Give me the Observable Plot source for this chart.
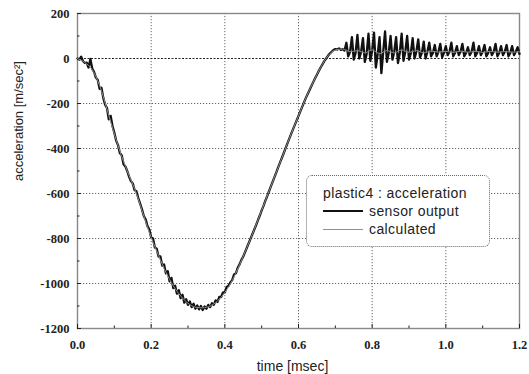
<!DOCTYPE html>
<html>
<head>
<meta charset="utf-8">
<script src="https://cdn.jsdelivr.net/npm/d3@7"></script>
<script src="https://cdn.jsdelivr.net/npm/@observablehq/plot@0.6"></script>
<style>
  html, body { margin: 0; padding: 0; background: #fff; }
  #wrap { position: relative; width: 529px; height: 374px; }
  #legend {
    position: absolute; left: 306px; top: 175px; width: 182px; height: 70px;
    border: 1px dotted #666; border-radius: 6px; background: #fff;
    font-family: "Liberation Sans", Arial, sans-serif; font-size: 14px; color: #222;
    letter-spacing: 0.4px;
  }
  #legend .title { position: absolute; left: 16px; top: 9px; white-space: nowrap; }
  #legend .row { position: absolute; left: 16px; white-space: nowrap; display: flex; align-items: center; }
  #legend .sw { display: inline-block; width: 40px; margin-right: 6px; }
</style>
</head>
<body>
<div id="wrap"></div>
<script>
// ---- data ----
const sensorStep = 0.005;            // msec between sensor samples, starting at 0
const sensorAccel = [
  0, -5, 8, -12, -20, -18, -40, -2, -45, -60,
  -85, -95, -135, -130, -175, -205, -220, -270, -255, -300,
  -330, -365, -385, -420, -430, -470, -480, -500, -525, -545,
  -555, -585, -590, -620, -645, -670, -700, -715, -745, -760,
  -795, -800, -840, -845, -880, -880, -920, -915, -955, -945,
  -990, -975, -1020, -1010, -1045, -1030, -1065, -1050, -1085, -1070,
  -1095, -1080, -1105, -1090, -1112, -1098, -1115, -1100, -1118, -1102,
  -1112, -1095, -1105, -1088, -1095, -1075, -1082, -1060, -1060, -1040,
  -1040, -1015, -1010, -995, -985, -960, -955, -930, -915, -895,
  -880, -860, -840, -820, -800, -780, -760, -740, -718, -698,
  -675, -655, -632, -612, -590, -568, -547, -526, -505, -483,
  -462, -441, -420, -398, -377, -356, -335, -315, -295, -275,
  -255, -235, -215, -195, -175, -158, -140, -122, -105, -88,
  -72, -56, -40, -26, -12, 0, 12, 22, 30, 38,
  42, 40, 45, 38, 42, 35, 70, 10, 30, 95,
  -5, 25, 105, 0, 30, 90, -15, 20, 110, -10,
  35, 115, -40, 20, 95, -65, 30, 120, -15, 25,
  100, -5, 30, 95, -20, 25, 110, -10, 30, 100,
  -5, 25, 90, 0, 30, 85, 5, 25, 75, 0,
  30, 70, 10, 25, 60, 10, 30, 65, 5, 25,
  55, 15, 30, 70, 10, 25, 55, 15, 30, 65,
  10, 25, 50, 15, 30, 70, 10, 25, 55, 15,
  30, 60, 10, 25, 50, 15, 30, 65, 10, 25,
  55, 15, 30, 60, 10, 25, 55, 15, 30, 50,
  20
];
const calcStep = 0.02;               // msec between calculated samples, starting at 0
const calcAccel = [
  0, -18, -50, -120, -225, -335, -435, -520, -600, -700,
  -795, -875, -950, -1010, -1055, -1088, -1105, -1108, -1100, -1078,
  -1040, -987, -917, -840, -760, -675, -590, -505, -420, -335,
  -255, -175, -105, -40, 12, 38, 42, 30, 35, 25,
  38, 22, 35, 25, 38, 28, 35, 25, 33, 28,
  32, 27, 33, 28, 32, 27, 32, 28, 31, 28,
  30
];
const xTicks = [0, 0.2, 0.4, 0.6, 0.8, 1.0, 1.2];
const xTickLabels = ["0.0", "0.2", "0.4", "0.6", "0.8", "1.0", "1.2"];
const xMinor = [0.1, 0.3, 0.5, 0.7, 0.9, 1.1];
const yTicks = [200, 0, -200, -400, -600, -800, -1000, -1200];
const yTickLabels = ["200", "0", "-200", "-400", "-600", "-800", "-1000", "-1200"];
const yMinor = [100, -100, -300, -500, -700, -900, -1100];
const xTitle = "time [msec]";
const yTitle = "acceleration [m/sec\u00B2]";
const legendTitle = "plastic4 : acceleration";
const seriesNames = ["sensor output", "calculated"];
const seriesColors = ["#111", "#8f8f8f"];

// ---- build tables ----
const sensorData = sensorAccel.map((v, i) => ({t: +(i * sensorStep).toFixed(4), v}));
const calcData = calcAccel.map((v, i) => ({t: +(i * calcStep).toFixed(4), v}));
const xLab = new Map(xTicks.map((d, i) => [d, xTickLabels[i]]));
const yLab = new Map(yTicks.map((d, i) => [d, yTickLabels[i]]));

const tickFont = {fontFamily: "'Liberation Serif', serif", fontSize: 12.5, fontWeight: "bold"};

const chart = Plot.plot({
  width: 529, height: 374,
  marginLeft: 77, marginRight: 10, marginTop: 13, marginBottom: 46,
  style: {fontFamily: "'Liberation Sans', Arial, sans-serif", color: "#222", background: "#fff"},
  x: {domain: [0, 1.2]},
  y: {domain: [-1200, 200]},
  marks: [
    Plot.gridX(xTicks, {stroke: "#666", strokeOpacity: 1, strokeDasharray: "1.2,1.8"}),
    Plot.gridY(yTicks.filter(d => d !== 0), {stroke: "#666", strokeOpacity: 1, strokeDasharray: "1.2,1.8"}),
    Plot.ruleY(yTicks.filter(d => d === 0), {stroke: "#222", strokeDasharray: "2,1.5"}),
    Plot.frame({stroke: "#888", strokeWidth: 1.4}),
    Plot.axisX(xTicks, {anchor: "bottom", tickSize: -4, tickPadding: 16, tickFormat: d => xLab.get(d), label: null, ...tickFont}),
    Plot.axisX(xMinor, {anchor: "bottom", tickSize: -2.5, tickFormat: () => "", label: null}),
    Plot.axisY(yTicks, {anchor: "left", tickSize: -4, tickPadding: 12, tickFormat: d => yLab.get(d), label: null, ...tickFont}),
    Plot.axisY(yMinor, {anchor: "left", tickSize: -2.5, tickFormat: () => "", label: null}),
    Plot.line(sensorData, {x: "t", y: "v", stroke: seriesColors[0], strokeWidth: 2.3, strokeLinejoin: "round"}),
    Plot.line(calcData, {x: "t", y: "v", stroke: seriesColors[1], strokeWidth: 1, curve: "monotone-x"}),
    Plot.text([xTitle], {frameAnchor: "bottom", dx: -6, dy: 38, fontSize: 14, fill: "#222", lineAnchor: "middle", style: "letter-spacing:1px"}),
    Plot.text([yTitle], {frameAnchor: "left", rotate: -90, dx: -59, dy: 10, fontSize: 13, fill: "#222", lineAnchor: "middle"})
  ]
});

const wrap = document.getElementById("wrap");
wrap.appendChild(chart);

// legend
const lg = document.createElement("div");
lg.id = "legend";
const tt = document.createElement("div");
tt.className = "title"; tt.textContent = legendTitle;
lg.appendChild(tt);
seriesNames.forEach((name, i) => {
  const row = document.createElement("div");
  row.className = "row";
  row.style.top = (27 + i * 18) + "px";
  const sw = document.createElement("span");
  sw.className = "sw";
  sw.style.borderTop = (i === 0 ? "2px" : "1.5px") + " solid " + seriesColors[i];
  const tx = document.createElement("span");
  tx.textContent = name;
  row.appendChild(sw); row.appendChild(tx);
  lg.appendChild(row);
});
wrap.appendChild(lg);
</script>
</body>
</html>
